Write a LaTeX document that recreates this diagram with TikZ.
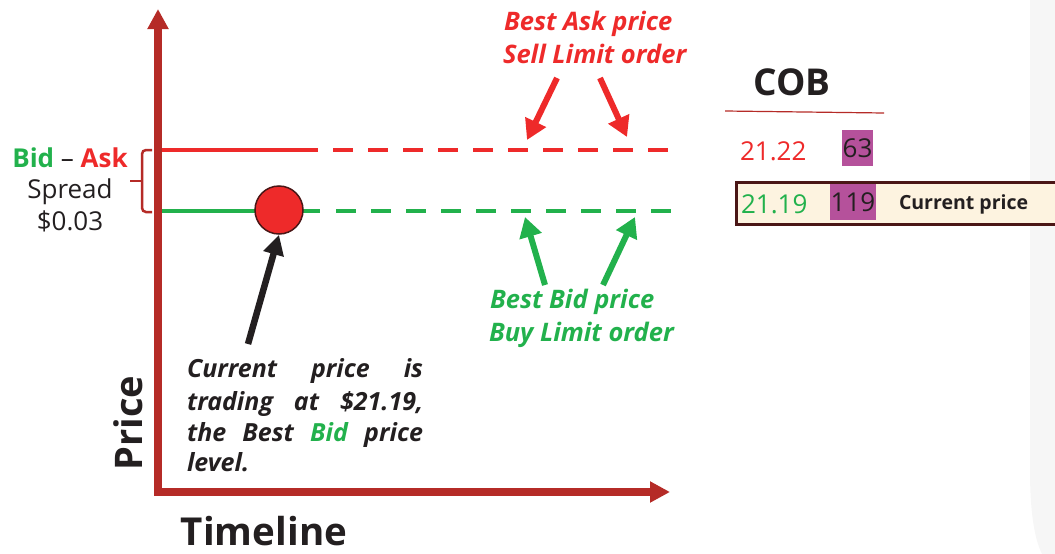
\documentclass[tikz,border=0pt]{standalone}
\usepackage{fontspec}
\setmainfont{Open Sans}
\usetikzlibrary{arrows.meta}
\definecolor{axisred}{HTML}{B52B27}
\definecolor{askred}{HTML}{EE2A2A}
\definecolor{bidgreen}{HTML}{22B14C}
\definecolor{txtdark}{HTML}{231F20}
\definecolor{cobpurple}{HTML}{B5519B}
\definecolor{cream}{HTML}{FDF3E0}
\definecolor{boxbrown}{HTML}{4A1616}
\definecolor{panelgray}{HTML}{F6F6F6}
\tikzset{
  lbl/.style={inner sep=0pt, outer sep=0pt},
  rg/.style={lbl, font=\fontsize{#1}{#1}\selectfont},
  bd/.style={lbl, font=\fontsize{#1}{#1}\selectfont\bfseries},
  bi/.style={lbl, font=\fontsize{#1}{#1}\selectfont\bfseries\itshape},
  axisline/.style={draw=axisred, line width=7.5pt, line join=miter,
    {Triangle[length=20pt,width=20pt]}-{Triangle[length=20pt,width=20pt]}},
  askline/.style={draw=askred, line width=4.5pt},
  bidline/.style={draw=bidgreen, line width=4.5pt},
  askarrow/.style={draw=askred, line width=6pt, -{Triangle[length=20pt,width=22pt]}},
  bidarrow/.style={draw=bidgreen, line width=6pt, -{Triangle[length=20pt,width=22pt]}},
  blkarrow/.style={draw=txtdark, line width=6.5pt, -{Triangle[length=20pt,width=20pt]}},
  qtybox/.style={fill=cobpurple, inner sep=0pt, text=txtdark, font=\fontsize{26}{26}\selectfont},
}
\begin{document}
\begin{tikzpicture}[x=1pt,y=-1pt]
\useasboundingbox (0,0) rectangle (1055,554);
% light side panel
\fill[panelgray] (1030,0) -- (1030,470) .. controls (1030,515) and (1035,540) .. (1042,554) -- (1055,554) -- (1055,0) -- cycle;

% axes
\coordinate (ytop) at (158,9);
\coordinate (orig) at (158,492);
\coordinate (xend) at (670,492);
\draw[axisline] (ytop) -- (orig) -- (xend);

% ask level
\coordinate (askL) at (162,150);
\coordinate (askS) at (318,150);
\coordinate (askD) at (333,150);
\coordinate (askR) at (668,150);
\draw[askline] (askL) -- (askS);
\draw[askline, dash pattern=on 20pt off 15pt] (askD) -- (askR);

% bid level
\coordinate (bidL) at (162,211);
\coordinate (bidS) at (320,211);
\coordinate (bidD) at (336,211);
\coordinate (bidR) at (671,211);
\draw[bidline] (bidL) -- (bidS);
\draw[bidline, dash pattern=on 20pt off 15pt] (bidD) -- (bidR);

% current price dot
\node[circle, fill=askred, draw=boxbrown, line width=1.5pt, minimum size=48pt, inner sep=0pt] (cur) at (279,210) {};
\coordinate (curtail) at (248,344);
\draw[blkarrow] (curtail) -- (cur.south);

% brace
\draw[axisred, line width=2.5pt, rounded corners=4pt] (152,150) -- (142,150) -- (142,212) -- (152,212);
\draw[axisred, line width=2.5pt] (142,181) -- (130,181);

% spread label
\node[bd=26, anchor=base] (bidask) at (70,167) {\textcolor{bidgreen}{Bid} \textcolor{txtdark}{\mdseries –} \textcolor{askred}{Ask}};
\node[rg=26, anchor=base, text=txtdark] (spread) at (70,198) {Spread};
\node[rg=26, anchor=base, text=txtdark] (spreadval) at (70,230) {\$0.03};

% ask annotation
\node[bi=25.5, anchor=base west, text=askred] (ask1) at (504,30) {Best Ask price};
\node[bi=25.5, anchor=base west, text=askred] (ask2) at (503,63) {Sell Limit order};
\coordinate (aa1) at (557,78);
\coordinate (at1) at (527,140);
\coordinate (aa2) at (600,78);
\coordinate (at2) at (627,137);
\draw[askarrow] (aa1) -- (at1);
\draw[askarrow] (aa2) -- (at2);

% bid annotation
\coordinate (ba1) at (545,285);
\coordinate (bt1) at (525,217);
\coordinate (ba2) at (603,285);
\coordinate (bt2) at (635,217);
\draw[bidarrow] (ba1) -- (bt1);
\draw[bidarrow] (ba2) -- (bt2);
\node[bi=25.5, anchor=base west, text=bidgreen] (bid1) at (490,308) {Best Bid price};
\node[bi=25.5, anchor=base west, text=bidgreen] (bid2) at (489,341) {Buy Limit order};

% explanation
\node[bi=25, anchor=base west, text=txtdark] (c1) at (187,377) {\makebox[236pt][s]{Current price is}};
\node[bi=25, anchor=base west, text=txtdark] (c2) at (187,410) {\makebox[236pt][s]{trading at \$21.19,}};
\node[bi=25, anchor=base west, text=txtdark] (c3) at (187,441) {\makebox[236pt][s]{the Best \textcolor{bidgreen}{Bid} price}};
\node[bi=25, anchor=base west, text=txtdark] (c4) at (187,471) {level.};

% axis titles
\node[bd=38, rotate=90, anchor=base, text=txtdark] (price) at (142,423) {Price};
\node[bd=38.5, anchor=base, text=txtdark] (timeline) at (264,545) {Timeline};

% COB
\node[bd=37, anchor=base, text=txtdark] (cob) at (792,95) {COB};
\coordinate (cobL) at (725,111);
\coordinate (cobR) at (884,113);
\draw[axisred, line width=1.2pt] (cobL) -- (cobR);

\node[rg=26, anchor=base west, text=askred] (p1) at (740,160) {21.22};
\node[qtybox, minimum width=31pt, minimum height=36pt] (q1) at (857.5,148) {63};

\node[draw=boxbrown, line width=2.5pt, fill=cream, inner sep=0pt, minimum width=330pt, minimum height=42pt, anchor=north west] (row2) at (735,181) {};
\node[rg=26, anchor=base west, text=bidgreen] (p2) at (741,213) {21.19};
\node[qtybox, minimum width=46pt, minimum height=36pt] (q2) at (853,202) {119};
\node[bd=19.5, anchor=base west, text=txtdark] (curlbl) at (899,209) {Current price};
\end{tikzpicture}
\end{document}
